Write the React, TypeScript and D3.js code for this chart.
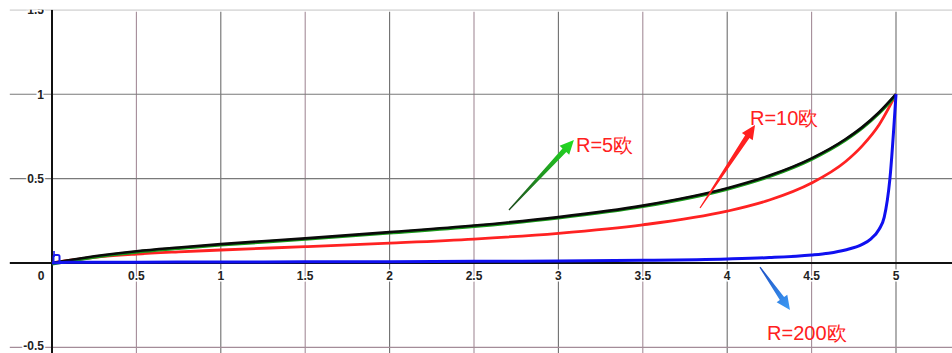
import React from "react";
import * as d3 from "d3";

// curve samples (x = slider position, y = output ratio)
const xR5 = [0, 0.25, 0.5, 0.75, 1, 1.5, 2, 2.5, 3, 3.5, 4, 4.25, 4.5, 4.7, 4.8, 4.9, 5];
const yR5 = [0, 0.04, 0.07, 0.092, 0.112, 0.146, 0.183, 0.222, 0.272, 0.34, 0.443, 0.518, 0.62, 0.733, 0.805, 0.893, 1];
const xR10 = [0, 0.25, 0.5, 0.75, 1, 1.5, 2, 2.5, 3, 3.5, 4, 4.25, 4.5, 4.7, 4.8, 4.9, 5];
const yR10 = [0, 0.034, 0.053, 0.066, 0.077, 0.097, 0.118, 0.142, 0.176, 0.226, 0.307, 0.373, 0.474, 0.6, 0.694, 0.819, 1];
const xR200 = [0, 0.1, 0.5, 1, 1.5, 2, 2.5, 3, 3.5, 4, 4.25, 4.5, 4.6, 4.7, 4.8, 4.85, 4.9, 4.93, 4.964, 5];
const yR200 = [0, 0.004, 0.005, 0.006, 0.007, 0.008, 0.01, 0.012, 0.016, 0.024, 0.032, 0.047, 0.058, 0.077, 0.11, 0.142, 0.2, 0.27, 0.5, 1];

const xTicks = [0.5, 1, 1.5, 2, 2.5, 3, 3.5, 4, 4.5, 5];
const yTicks = [-0.5, 0.5, 1, 1.5];

// annotations: label text, arrow tail, arrow tip, label anchor (data units)
const labels = ["R=5欧", "R=10欧", "R=200欧"];
const arrowTails = [[2.707, 0.314], [3.839, 0.326], [4.194, -0.024]];
const arrowTips = [[3.092, 0.729], [4.165, 0.818], [4.372, -0.278]];
const labelPos = [[3.104, 0.658], [4.135, 0.818], [4.236, -0.456]];
const arrowColors = [["#1f4a1f", "#22e022"], ["#ff2020", "#ff2020"], ["#1d4fc4", "#3d9cf5"]];

const width = 952;
const height = 353;

const zip = (xs: number[], ys: number[]) => xs.map((x, i) => [x, ys[i]] as [number, number]);

function arrowPath(t: number[], h: number[]) {
	const dx = h[0] - t[0];
	const dy = h[1] - t[1];
	const len = Math.sqrt(dx * dx + dy * dy);
	const ux = dx / len;
	const uy = dy / len;
	const px = -uy;
	const py = ux;
	const headLen = 14;
	const headW = 6.5;
	const bx = h[0] - ux * headLen;
	const by = h[1] - uy * headLen;
	const w0 = 0.6;
	const w1 = 2.6;
	const pts = [
		[t[0] + px * w0, t[1] + py * w0],
		[bx + px * w1, by + py * w1],
		[bx + px * headW, by + py * headW],
		[h[0], h[1]],
		[bx - px * headW, by - py * headW],
		[bx - px * w1, by - py * w1],
		[t[0] - px * w0, t[1] - py * w0],
	];
	return "M" + pts.map((p) => p.join(",")).join("L") + "Z";
}

const App = () => {
	const xScale = d3.scaleLinear().domain([0, 5]).range([52, 896]);
	const yScale = d3.scaleLinear().domain([0, 1.5]).range([263, 9.8]);

	const line = d3
		.line<[number, number]>()
		.x((d) => xScale(d[0]))
		.y((d) => yScale(d[1]))
		.curve(d3.curveMonotoneX);

	const gridLeft = xScale(-0.25);
	const top = yScale(1.5);

	return (
		<svg
			width={width}
			height={height}
			style={{ position: "absolute", left: 0, top: 0, background: "#fff" }}
			fontFamily="Liberation Sans, Arial, sans-serif"
		>
			<defs>
				<clipPath id="clipTop">
					<rect x={0} y={top} width={width} height={height - top} />
				</clipPath>
				{arrowColors.map((c, i) => {
					const t = arrowTails[i];
					const h = arrowTips[i];
					return (
						<linearGradient
							key={i}
							id={`arrowGrad${i}`}
							gradientUnits="userSpaceOnUse"
							x1={xScale(t[0])}
							y1={yScale(t[1])}
							x2={xScale(h[0])}
							y2={yScale(h[1])}
						>
							<stop offset="0" stopColor={c[0]} />
							<stop offset="1" stopColor={c[1]} />
						</linearGradient>
					);
				})}
			</defs>
			<g clipPath="url(#clipTop)">
				{/* grid */}
				{xTicks.map((t, i) => (
					<line
						key={"vx" + t}
						x1={xScale(t)}
						x2={xScale(t)}
						y1={top + 2}
						y2={height}
						stroke={i % 2 === 0 ? "#a48c98" : "#6e6e6e"}
						strokeWidth={1.1}
					/>
				))}
				{yTicks.map((t) => (
					<line
						key={"hy" + t}
						x1={gridLeft}
						x2={width}
						y1={yScale(t)}
						y2={yScale(t)}
						stroke={t < 0 ? "#a48c98" : "#7a7a7a"}
						strokeWidth={1.1}
					/>
				))}
				{/* axes */}
				<line x1={gridLeft} x2={width} y1={yScale(0)} y2={yScale(0)} stroke="#111" strokeWidth={2} />
				<line x1={xScale(0)} x2={xScale(0)} y1={top} y2={height} stroke="#111" strokeWidth={2} />

				{/* tick labels */}
				{xTicks.map((t) => (
					<text
						key={"xl" + t}
						x={xScale(t)}
						y={yScale(0) + 17}
						textAnchor="middle"
						fontSize={12}
						fontWeight="bold"
						fill="#222"
						stroke="#fff"
						strokeWidth={3}
						paintOrder="stroke"
					>
						{t}
					</text>
				))}
				<text x={xScale(0) - 11} y={yScale(0) + 17} textAnchor="middle" fontSize={12} fontWeight="bold" fill="#222">
					0
				</text>
				{yTicks.map((t) => (
					<text
						key={"yl" + t}
						x={xScale(0) - 8}
						y={yScale(t) + (t < 0 ? 3 : 4.5)}
						textAnchor="end"
						fontSize={12}
						fontWeight="bold"
						fill="#222"
						stroke="#fff"
						strokeWidth={3}
						paintOrder="stroke"
					>
						{t}
					</text>
				))}

				{/* curves */}
				<path d={line(zip(xR10, yR10)) || ""} fill="none" stroke="#ff2222" strokeWidth={2.8} />
				<path
					d={line(zip(xR5, yR5)) || ""}
					fill="none"
					stroke="#1a9a1a"
					strokeWidth={3.2}
					transform="translate(0,0.9)"
				/>
				<path d={line(zip(xR5, yR5)) || ""} fill="none" stroke="#0a0a0a" strokeWidth={2.6} />
				<path d={line(zip(xR200, yR200)) || ""} fill="none" stroke="#1010f0" strokeWidth={3} />

				{/* small marker at origin */}
				<rect
					x={xScale(0) + 1.5}
					y={yScale(0) - 8}
					width={6}
					height={8}
					rx={1.5}
					fill="none"
					stroke="#1a1af0"
					strokeWidth={2}
				/>
				<line
					x1={xScale(0) + 2}
					x2={xScale(0) + 2}
					y1={yScale(0) - 12}
					y2={yScale(0) - 6}
					stroke="#1a1af0"
					strokeWidth={1.6}
				/>

				{/* annotations */}
				{labels.map((lab, i) => {
					const t = arrowTails[i];
					const h = arrowTips[i];
					const p = labelPos[i];
					return (
						<g key={lab}>
							<path
								d={arrowPath([xScale(t[0]), yScale(t[1])], [xScale(h[0]), yScale(h[1])])}
								fill={`url(#arrowGrad${i})`}
							/>
							<text x={xScale(p[0])} y={yScale(p[1])} fontSize={20} fill="#ff2020">
								{lab}
							</text>
						</g>
					);
				})}
			</g>
		</svg>
	);
};

export default App;
